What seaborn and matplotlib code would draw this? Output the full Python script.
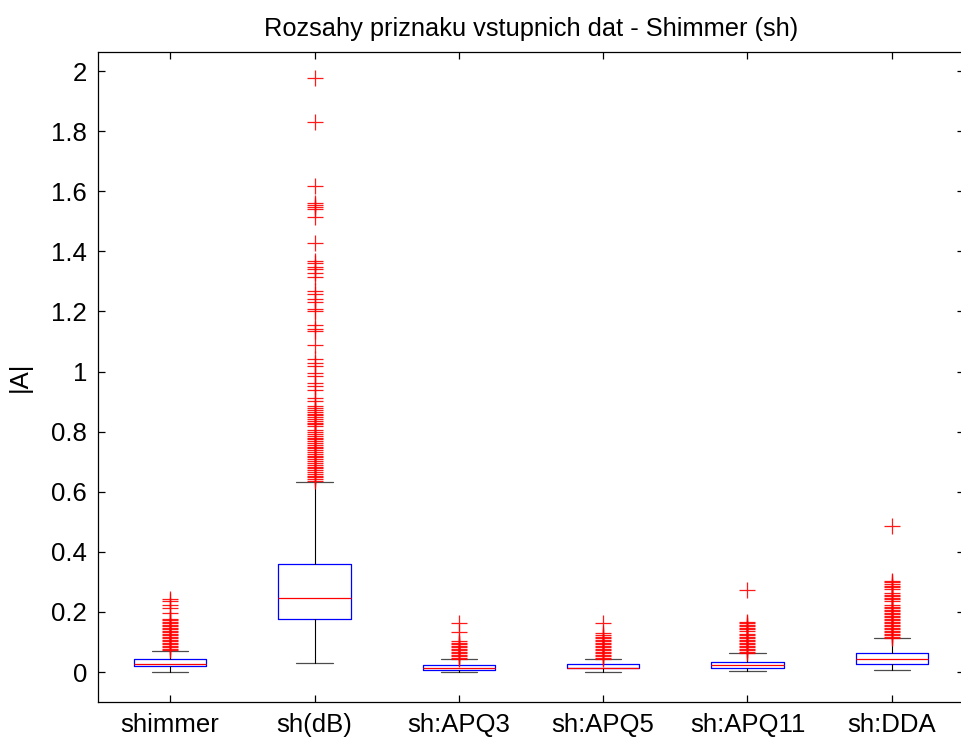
import numpy as np
import pandas as pd
import matplotlib
matplotlib.use("Agg")
import matplotlib.pyplot as plt
import seaborn as sns

# ---- data ----
features = ["shimmer", "sh(dB)", "sh:APQ3", "sh:APQ5", "sh:APQ11", "sh:DDA"]
whislo = [0.001, 0.029, 0.001, 0.001, 0.002, 0.008]
q1 = [0.020, 0.175, 0.008, 0.013, 0.014, 0.028]
median = [0.028, 0.248, 0.014, 0.015, 0.022, 0.042]
q3 = [0.043, 0.361, 0.022, 0.028, 0.035, 0.062]
whishi = [0.070, 0.634, 0.042, 0.042, 0.062, 0.114]

out_shimmer = [0.243, 0.237, 0.223, 0.213, 0.197, 0.177, 0.172, 0.167, 0.162,
               0.157, 0.152, 0.147, 0.142, 0.137, 0.132, 0.127, 0.122, 0.117,
               0.112, 0.107, 0.102, 0.097, 0.092, 0.087, 0.082, 0.077, 0.072]
out_sh_db = [1.976, 1.829, 1.616, 1.562, 1.553, 1.546, 1.540, 1.514, 1.429,
             1.368, 1.362, 1.349, 1.342, 1.329, 1.316, 1.268, 1.257, 1.242,
             1.231, 1.209, 1.201, 1.154, 1.142, 1.134, 1.087, 1.042, 1.029,
             1.020, 0.996, 0.984, 0.962, 0.951, 0.938, 0.912, 0.903, 0.884,
             0.878, 0.872, 0.866, 0.860, 0.854, 0.848, 0.842, 0.836, 0.830,
             0.824, 0.818, 0.804, 0.798, 0.792, 0.786, 0.780, 0.774, 0.768,
             0.762, 0.756, 0.750, 0.744, 0.738, 0.732, 0.726, 0.720, 0.714,
             0.708, 0.702, 0.696, 0.690, 0.684, 0.678, 0.672, 0.666, 0.660,
             0.654, 0.648, 0.642, 0.636]
out_apq3 = [0.162, 0.132, 0.103, 0.098, 0.093, 0.088, 0.083, 0.078, 0.073,
            0.068, 0.063, 0.058, 0.053, 0.048, 0.044]
out_apq5 = [0.162, 0.129, 0.124, 0.118, 0.113, 0.108, 0.103, 0.098, 0.093,
            0.088, 0.083, 0.078, 0.073, 0.068, 0.063, 0.058, 0.053, 0.048,
            0.044]
out_apq11 = [0.274, 0.168, 0.163, 0.158, 0.153, 0.148, 0.143, 0.135, 0.128,
             0.123, 0.118, 0.113, 0.108, 0.103, 0.098, 0.093, 0.088, 0.083,
             0.078, 0.073, 0.068, 0.064]
out_dda = [0.487, 0.303, 0.298, 0.293, 0.288, 0.283, 0.278, 0.262, 0.257,
           0.252, 0.247, 0.242, 0.237, 0.223, 0.218, 0.213, 0.208, 0.203,
           0.198, 0.193, 0.188, 0.183, 0.178, 0.173, 0.168, 0.163, 0.158,
           0.153, 0.148, 0.143, 0.138, 0.133, 0.128, 0.123, 0.118, 0.114]
outliers = [out_shimmer, out_sh_db, out_apq3, out_apq5, out_apq11, out_dda]

title = "Rozsahy priznaku vstupnich dat - Shimmer (sh)"
ylabel = "|A|"
yticks = [0, 0.2, 0.4, 0.6, 0.8, 1, 1.2, 1.4, 1.6, 1.8, 2]
ytick_labels = ["0", "0.2", "0.4", "0.6", "0.8", "1", "1.2", "1.4", "1.6", "1.8", "2"]

# ---- style ----
sns.set_theme(style="white")
plt.rcParams["font.family"] = ["Liberation Sans", "DejaVu Sans"]
plt.rcParams["axes.edgecolor"] = "black"
plt.rcParams["axes.linewidth"] = 0.9
plt.rcParams["text.color"] = "black"
plt.rcParams["axes.labelcolor"] = "black"
plt.rcParams["xtick.color"] = "black"
plt.rcParams["ytick.color"] = "black"

fig = plt.figure(figsize=(9.61, 7.42), dpi=100)
W, H = 961, 742
ax = fig.add_axes([98 / W, 1 - 701.5 / H, 866 / W, 650 / H])

positions = np.arange(1, len(features) + 1)
stats = []
for i, f in enumerate(features):
    stats.append(dict(label=f, whislo=whislo[i], q1=q1[i], med=median[i],
                      q3=q3[i], whishi=whishi[i], fliers=[]))

ax.bxp(stats, positions=positions, widths=0.5, showfliers=False,
       boxprops=dict(color="blue", linewidth=0.9),
       medianprops=dict(color="red", linewidth=0.9),
       whiskerprops=dict(color="black", linewidth=0.8),
       capprops=dict(color="black", linewidth=0.9, alpha=0.7))

df = pd.DataFrame({
    "pos": np.concatenate([[positions[i]] * len(o) for i, o in enumerate(outliers)]),
    "value": np.concatenate([np.asarray(o, float) for o in outliers]),
})
sns.scatterplot(data=df, x="pos", y="value", marker="+", color="red",
                s=140, linewidth=0.9, alpha=0.9, ax=ax, legend=False, zorder=3)

ax.set_xlim(0.5, 6.5)
ax.set_ylim(-0.098, 2.065)
ax.set_xticks(positions)
ax.set_xticklabels(features)
ax.set_yticks(yticks)
ax.set_yticklabels(ytick_labels)
ax.set_xlabel("")
ax.set_ylabel(ylabel, fontsize=18.5, labelpad=14, color="black")
ax.set_title(title, fontsize=18.3, pad=11, color="black")
ax.tick_params(axis="both", which="both", direction="in", length=5, width=0.9,
               labelsize=18.5, top=True, right=True, bottom=True, left=True,
               color="black", labelcolor="black", pad=8)
for s in ax.spines.values():
    s.set_visible(True)
    s.set_color("black")

fig.savefig("out.png", dpi=100)
